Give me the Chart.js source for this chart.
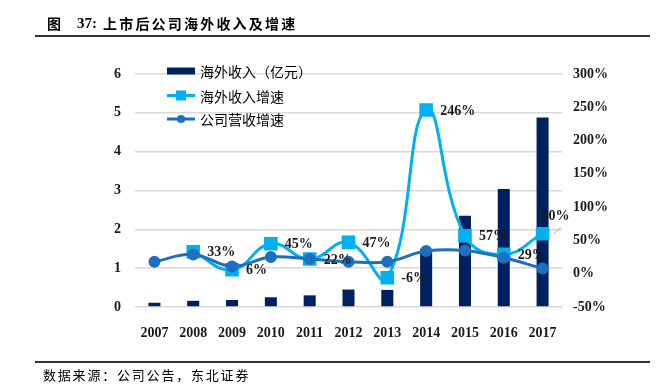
<!DOCTYPE html>
<html lang="zh">
<head>
<meta charset="UTF-8">
<title>上市后公司海外收入及增速</title>
<script src="https://cdn.jsdelivr.net/npm/chart.js"></script>
<style>
body { margin: 0; background: #fff; }
.wrap { position: relative; width: 660px; height: 384px; overflow: hidden; }
#chart { position: absolute; left: 0; top: 0; }
.title {
    position: absolute; top: 13px;
    font: bold 14px "Liberation Serif", "Noto Sans CJK SC", serif;
    color: #000; white-space: pre;
}
.rule { position: absolute; left: 35px; width: 615px; height: 2px; background: #333; }
.source {
    position: absolute; left: 43px; top: 365px;
    font: 13px "Noto Sans CJK SC", sans-serif; color: #000;
    letter-spacing: 1.8px;
}
</style>
</head>
<body>
<div class="wrap">
    <canvas id="chart" width="660" height="384"></canvas>
    <div class="title" style="left:47px">图</div>
    <div class="title" style="left:77px;top:15px;font-size:15px">37:</div>
    <div class="title" style="left:103px;letter-spacing:2.2px">上市后公司海外收入及增速</div>
    <div class="rule" style="top:35px"></div>
    <div class="rule" style="top:361px"></div>
    <div class="source">数据来源：公司公告，东北证券</div>
</div>
<script>
const years = ['2007', '2008', '2009', '2010', '2011', '2012', '2013', '2014', '2015', '2016', '2017'];
// 海外收入（亿元）
const overseasRevenue = [0.11, 0.16, 0.18, 0.25, 0.30, 0.45, 0.44, 1.49, 2.35, 3.04, 4.88];
// 海外收入增速 (%)
const overseasGrowth = [null, 33, 6, 45, 22, 47, -6, 246, 57, 29, 60];
// 公司营收增速 (%)
const companyGrowth = [18, 29, 11, 25, 22, 18, 18, 34, 35, 24, 8];

const navy = '#002060';
const lightBlue = '#00B0F0';
const blue = '#1F6FC0';
const serifBold = 'bold 14px "Liberation Serif", serif';

// percentage labels next to the overseas growth points
const growthLabels = {
    id: 'growthLabels',
    afterDatasetsDraw(chart) {
        const ctx = chart.ctx;
        const meta = chart.getDatasetMeta(1);
        ctx.save();
        ctx.font = serifBold;
        ctx.fillStyle = '#1a1a1a';
        ctx.textBaseline = 'middle';
        ctx.textAlign = 'left';
        meta.data.forEach((pt, i) => {
            const v = overseasGrowth[i];
            if (v === null) return;
            let x = pt.x + 14, y = pt.y + 1;
            if (i === years.length - 1) {
                x = pt.x - 1; y = pt.y - 17;
                ctx.strokeStyle = '#a6a6a6';
                ctx.lineWidth = 1;
                ctx.beginPath();
                ctx.moveTo(pt.x + 11, pt.y);
                ctx.lineTo(pt.x + 18, pt.y - 6);
                ctx.stroke();
            }
            ctx.fillText(v + '%', x, y);
        });
        ctx.restore();
    }
};

// legend drawn inside the plot, top left
const insideLegend = {
    id: 'insideLegend',
    afterDraw(chart) {
        const ctx = chart.ctx;
        const x0 = chart.chartArea.left + 32;
        const y0 = chart.chartArea.top - 3;
        const ds = chart.data.datasets;
        ctx.save();
        ctx.font = '14px "Noto Sans CJK SC", sans-serif';
        ctx.textBaseline = 'middle';
        // bar
        ctx.fillStyle = navy;
        ctx.fillRect(x0, y0 - 3.5, 28, 7);
        // lines
        [[1, y0 + 24.5, 'rect'], [2, y0 + 48, 'circle']].forEach(([idx, y, style]) => {
            ctx.strokeStyle = ds[idx].borderColor;
            ctx.lineWidth = 3;
            ctx.beginPath();
            ctx.moveTo(x0, y);
            ctx.lineTo(x0 + 28, y);
            ctx.stroke();
            ctx.fillStyle = ds[idx].borderColor;
            if (style === 'rect') {
                ctx.fillRect(x0 + 9, y - 5, 10, 10);
            } else {
                ctx.beginPath();
                ctx.arc(x0 + 14, y, 4, 0, Math.PI * 2);
                ctx.fill();
            }
        });
        ctx.fillStyle = '#000';
        ctx.fillText(ds[0].label, x0 + 33, y0 + 1);
        ctx.fillText(ds[1].label, x0 + 33, y0 + 25.5);
        ctx.fillText(ds[2].label, x0 + 33, y0 + 49);
        ctx.restore();
    }
};

new Chart(document.getElementById('chart'), {
    data: {
        labels: years,
        datasets: [{
            type: 'bar',
            label: '海外收入（亿元）',
            data: overseasRevenue,
            backgroundColor: navy,
            yAxisID: 'y',
            barPercentage: 0.62,
            categoryPercentage: 0.5,
            order: 3
        }, {
            type: 'line',
            label: '海外收入增速',
            data: overseasGrowth,
            borderColor: lightBlue,
            backgroundColor: lightBlue,
            borderWidth: 3,
            pointStyle: 'rect',
            pointRadius: 7.5,
            pointHoverRadius: 7.5,
            tension: 0.45,
            yAxisID: 'y1',
            order: 2
        }, {
            type: 'line',
            label: '公司营收增速',
            data: companyGrowth,
            borderColor: blue,
            backgroundColor: blue,
            borderWidth: 3,
            pointStyle: 'circle',
            pointRadius: 4.5,
            pointHoverRadius: 4.5,
            tension: 0.4,
            yAxisID: 'y1',
            order: 1
        }]
    },
    options: {
        responsive: false,
        animation: false,
        layout: { padding: { top: 74, left: 0, right: 0, bottom: 0 } },
        plugins: {
            legend: { display: false },
            tooltip: { enabled: false }
        },
        scales: {
            x: {
                offset: true,
                grid: { display: false },
                border: { display: false },
                ticks: { font: { family: '"Liberation Serif", serif', size: 14, weight: 'bold' }, color: '#1a1a1a', padding: 10 },
                afterFit(s) { s.height = 77; }
            },
            y: {
                position: 'left',
                min: 0, max: 6,
                ticks: { stepSize: 1, font: { family: '"Liberation Serif", serif', size: 14, weight: 'bold' }, color: '#1a1a1a', padding: 14 },
                grid: { color: '#d9d9d9', lineWidth: 1.5, drawTicks: false },
                border: { display: false },
                afterFit(s) { s.width = 135; }
            },
            y1: {
                position: 'right',
                min: -50, max: 300,
                ticks: { stepSize: 50, callback: v => v + '%', font: { family: '"Liberation Serif", serif', size: 14, weight: 'bold' }, color: '#1a1a1a', padding: 11 },
                grid: { display: false, drawTicks: false },
                border: { display: false },
                afterFit(s) { s.width = 98; }
            }
        }
    },
    plugins: [growthLabels, insideLegend]
});
</script>
</body>
</html>
